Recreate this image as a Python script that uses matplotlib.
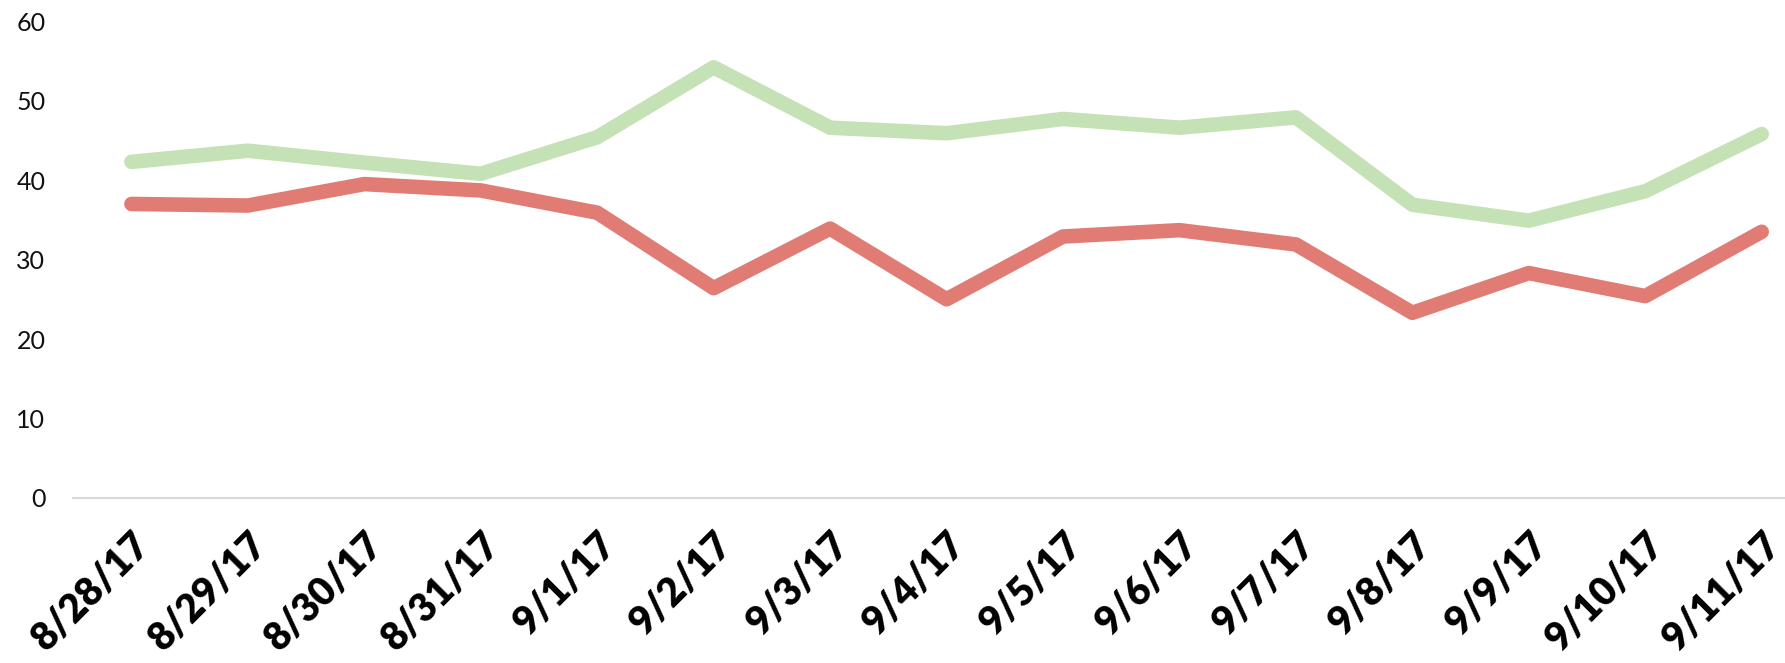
import matplotlib
matplotlib.use("Agg")
import matplotlib.pyplot as plt

# daily values
dates = ["8/28/17", "8/29/17", "8/30/17", "8/31/17", "9/1/17", "9/2/17", "9/3/17",
         "9/4/17", "9/5/17", "9/6/17", "9/7/17", "9/8/17", "9/9/17", "9/10/17", "9/11/17"]
green_vals = [42.3, 43.7, 42.2, 40.8, 45.4, 54.2, 46.6, 45.9, 47.7, 46.6, 47.9, 36.9, 34.9, 38.6, 45.8]
red_vals = [37.0, 36.8, 39.5, 38.7, 35.9, 26.4, 33.9, 25.0, 32.9, 33.7, 31.9, 23.3, 28.3, 25.4, 33.5]
yticks = [0, 10, 20, 30, 40, 50, 60]

GREEN = "#c5e1b6"
RED = "#e07c73"

fig = plt.figure(figsize=(17.85, 6.63), dpi=100)
ax = fig.add_axes([0.041, 0.249, 0.959, 0.719])

x = list(range(len(dates)))
ax.plot(x, green_vals, color=GREEN, lw=10.5, solid_capstyle="round", solid_joinstyle="round")
ax.plot(x, red_vals, color=RED, lw=10.5, solid_capstyle="round", solid_joinstyle="round")

ax.set_xlim(-0.5, 14.2)
ax.set_ylim(0, 60)
ax.set_yticks(yticks)
ax.set_yticklabels([str(v) for v in yticks], family=["Lato", "DejaVu Sans"],
                   fontweight="normal", fontsize=18, color="#111111")
ax.set_xticks(x)
ax.set_xticklabels(dates, rotation=45, ha="right", va="top", rotation_mode="anchor",
                   family=["Lato", "DejaVu Sans"], fontsize=28, fontweight="heavy",
                   color="black")
ax.tick_params(axis="x", length=0, pad=20)
ax.tick_params(axis="y", length=0, pad=20)

for side in ["top", "right", "left"]:
    ax.spines[side].set_visible(False)
ax.spines["bottom"].set_color("#d9d9d9")
ax.spines["bottom"].set_linewidth(1.5)

fig.savefig("out.png", dpi=100)
